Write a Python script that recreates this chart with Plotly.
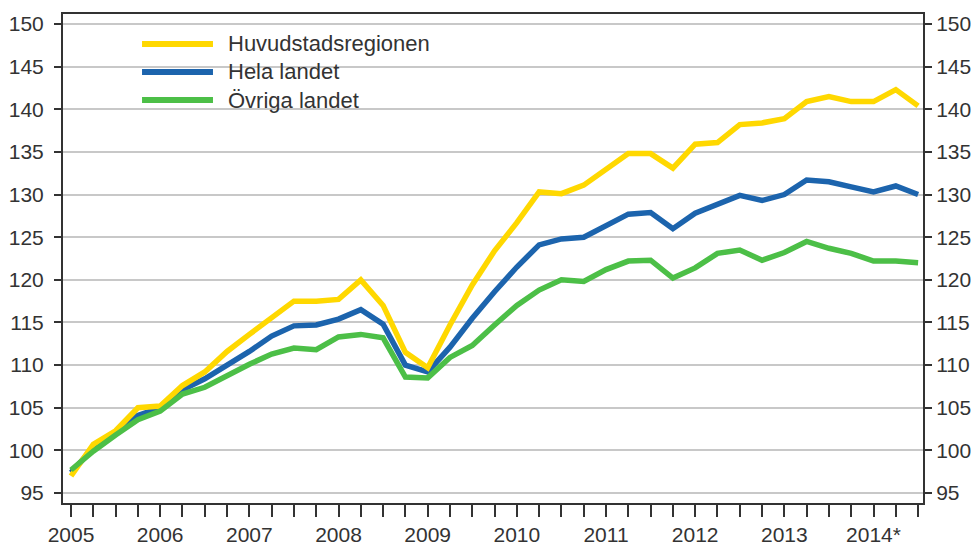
import plotly.graph_objects as go

quarters = [f"{y}Q{q}" for y in range(2005, 2015) for q in range(1, 5)][:39]
year_labels = ["2005", "2006", "2007", "2008", "2009", "2010", "2011", "2012", "2013", "2014*"]

series_names = ["Huvudstadsregionen", "Hela landet", "Övriga landet"]

huvudstadsregionen = [97.0, 100.7, 102.3, 105.0, 105.2, 107.6, 109.2, 111.6, 113.6, 115.6,
                      117.5, 117.5, 117.7, 120.0, 117.0, 111.5, 109.7, 114.7, 119.4, 123.4,
                      126.7, 130.3, 130.1, 131.1, 132.9, 134.8, 134.8, 133.1, 135.9, 136.1,
                      138.2, 138.4, 138.9, 140.9, 141.5, 140.9, 140.9, 142.3, 140.4]
hela_landet = [97.4, 100.3, 102.0, 104.1, 105.0, 107.1, 108.4, 110.0, 111.6, 113.4,
               114.6, 114.7, 115.4, 116.5, 114.8, 110.0, 109.2, 112.1, 115.5, 118.6,
               121.5, 124.1, 124.8, 125.0, 126.4, 127.7, 127.9, 126.0, 127.8, 128.9,
               129.9, 129.3, 130.0, 131.7, 131.5, 130.9, 130.3, 131.0, 130.0]
ovriga_landet = [97.7, 99.9, 101.8, 103.6, 104.6, 106.6, 107.4, 108.8, 110.1, 111.3,
                 112.0, 111.8, 113.3, 113.6, 113.2, 108.6, 108.5, 110.9, 112.3, 114.7,
                 117.0, 118.8, 120.0, 119.8, 121.2, 122.2, 122.3, 120.2, 121.4, 123.1,
                 123.5, 122.3, 123.2, 124.5, 123.7, 123.1, 122.2, 122.2, 122.0]

colors = {"Huvudstadsregionen": "#FFD800", "Hela landet": "#1C64AD", "Övriga landet": "#4CBF47"}
values = {"Huvudstadsregionen": huvudstadsregionen, "Hela landet": hela_landet,
          "Övriga landet": ovriga_landet}

y_ticks = list(range(95, 151, 5))
tick_text = []
for q in quarters:
    tick_text.append(year_labels[int(q[:4]) - 2005] if q.endswith("Q1") else "")

FONT = "Liberation Sans, Arial, sans-serif"
TXT = "#333333"
fig = go.Figure()
for name in ["Hela landet", "Huvudstadsregionen", "Övriga landet"]:
    fig.add_trace(go.Scatter(x=quarters, y=values[name], mode="lines", name=name,
                             line=dict(color=colors[name], width=5.5), showlegend=False))
# invisible trace to anchor the right axis
fig.add_trace(go.Scatter(x=quarters, y=hela_landet, yaxis="y2", mode="lines",
                         line=dict(width=0), showlegend=False, hoverinfo="skip", opacity=0))

yr = [93.83, 151.17]
fig.update_layout(
    width=975, height=547,
    margin=dict(l=63, r=52, t=14, b=44),
    paper_bgcolor="white", plot_bgcolor="white",
    font=dict(family=FONT, size=21, color=TXT),
    xaxis=dict(type="category", range=[-0.36, 38.22], tickmode="array",
               tickvals=quarters, ticktext=tick_text, ticks="outside", ticklen=12,
               tickwidth=2, tickcolor=TXT, showline=True, linecolor=TXT,
               linewidth=2, mirror=True, showgrid=False, ticklabelstandoff=0,
               automargin=False, tickfont=dict(size=21, color=TXT)),
    yaxis=dict(range=yr, tickvals=y_ticks, ticks="outside", ticklen=7, tickwidth=2,
               tickcolor=TXT, showline=True, linecolor=TXT, linewidth=2,
               showgrid=True, gridcolor="#C8C8C8", gridwidth=1.5, zeroline=False,
               ticklabelstandoff=6, automargin=False, tickfont=dict(size=21, color=TXT)),
    yaxis2=dict(range=yr, tickvals=y_ticks, overlaying="y", side="right", ticks="outside",
                ticklen=7, tickwidth=2, tickcolor=TXT, showline=True,
                linecolor=TXT, linewidth=2, showgrid=False, zeroline=False,
                ticklabelstandoff=0, automargin=False, tickfont=dict(size=21, color=TXT)),
)

# legend (drawn manually to match the long line samples)
fig.add_shape(type="rect", xref="paper", yref="paper", x0=0, x1=0.458, y0=0.78, y1=1,
              fillcolor="white", line=dict(width=0), layer="between")
legend_rows = [0.9387, 0.8814, 0.8241]
for name, yy in zip(series_names, legend_rows):
    fig.add_shape(type="line", xref="paper", yref="paper", x0=0.0919, x1=0.1744, y0=yy, y1=yy,
                  line=dict(color=colors[name], width=6))
    fig.add_annotation(text=name, xref="paper", yref="paper", x=0.1895, y=yy,
                       xanchor="left", yanchor="middle", showarrow=False,
                       font=dict(family=FONT, size=22, color=TXT))

fig.write_html("out.html", config={"displayModeBar": False},
               post_script="document.body.style.margin='0px';")
